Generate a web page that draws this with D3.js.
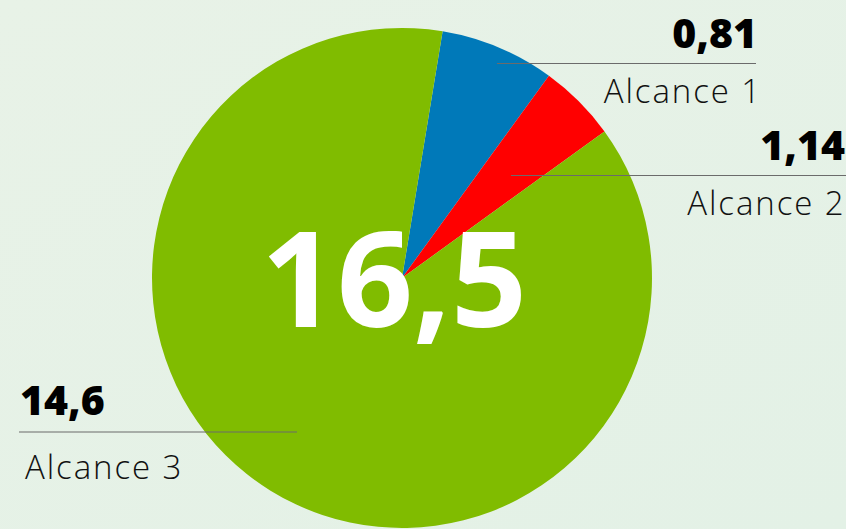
<!DOCTYPE html>
<html>
<head>
<meta charset="utf-8">
<script src="https://cdn.jsdelivr.net/npm/d3@7"></script>
<style>
  html, body { margin: 0; padding: 0; overflow: hidden; }
  body { width: 846px; height: 529px; }
</style>
</head>
<body>
<div id="chart"></div>
<script>
const w = 846;
const h = 529;

// labels and numbers as printed
const categories = ['Alcance 1', 'Alcance 2', 'Alcance 3'];
const valueLabels = ['0,81', '1,14', '14,6'];
const totalLabel = '16,5';
// slice sizes as drawn in the picture (percent of the circle)
const sliceShares = [7.4, 5.03, 87.57];
const colors = ['#0079b9', '#ff0000', '#80bc00'];

const cx = 402;
const cy = 278;
const radius = 250;
// the first slice starts a little right of twelve o'clock
const startAngle = (9.35 * Math.PI) / 180;

const svg = d3
  .select('#chart')
  .append('svg')
  .attr('width', w)
  .attr('height', h);

const defs = svg.append('defs');
const grad = defs
  .append('linearGradient')
  .attr('id', 'bg')
  .attr('x1', '0')
  .attr('y1', '0')
  .attr('x2', '1')
  .attr('y2', '1');
grad.append('stop').attr('offset', '0').attr('stop-color', '#e8f2e7');
grad.append('stop').attr('offset', '1').attr('stop-color', '#e3f1e6');

svg.append('rect').attr('width', w).attr('height', h).attr('fill', 'url(#bg)');

const pie = d3
  .pie()
  .sort(null)
  .value((d) => d)
  .startAngle(startAngle)
  .endAngle(startAngle + 2 * Math.PI);

const arc = d3.arc().innerRadius(0).outerRadius(radius);

svg
  .append('g')
  .attr('transform', `translate(${cx},${cy})`)
  .selectAll('path')
  .data(pie(sliceShares))
  .enter()
  .append('path')
  .attr('d', arc)
  .attr('fill', (d, i) => colors[i]);

// label placement per category
const labelPos = [
  { valX: 757, catX: 762, x0: 497, x1: 756, lineY: 63.5, anchor: 'end', valY: 48, catY: 103 },
  { valX: 845, catX: 845.5, x0: 511, x1: 846, lineY: 175.5, anchor: 'end', valY: 160, catY: 215 },
  { valX: 20, catX: 25, x0: 19, x1: 297, lineY: 432, anchor: 'start', valY: 415, catY: 479 }
];
const catSpacing = 1.9;

const labels = svg
  .selectAll('g.label')
  .data(categories)
  .enter()
  .append('g')
  .attr('class', 'label');

labels
  .append('line')
  .attr('x1', (d, i) => labelPos[i].x0)
  .attr('x2', (d, i) => labelPos[i].x1)
  .attr('y1', (d, i) => labelPos[i].lineY)
  .attr('y2', (d, i) => labelPos[i].lineY)
  .attr('stroke', '#6b6b6b')
  .attr('stroke-width', 1.2);

labels
  .append('text')
  .attr('x', (d, i) => labelPos[i].valX)
  .attr('y', (d, i) => labelPos[i].valY)
  .attr('text-anchor', (d, i) => labelPos[i].anchor)
  .attr('font-family', 'Open Sans, sans-serif')
  .attr('font-weight', 800)
  .attr('font-size', 41)
  .attr('fill', '#000')
  .text((d, i) => valueLabels[i]);

labels
  .append('text')
  .attr('x', (d, i) => labelPos[i].catX)
  .attr('y', (d, i) => labelPos[i].catY)
  .attr('text-anchor', (d, i) => labelPos[i].anchor)
  .attr('font-family', 'Open Sans, sans-serif')
  .attr('font-weight', 300)
  .attr('font-size', 33)
  .attr('letter-spacing', catSpacing)
  .attr('fill', '#111')
  .text((d) => d);

svg
  .append('text')
  .attr('x', 394)
  .attr('y', 327)
  .attr('text-anchor', 'middle')
  .attr('font-family', 'Open Sans, sans-serif')
  .attr('font-weight', 700)
  .attr('font-size', 133)
  .attr('fill', '#fff')
  .text(totalLabel);
</script>
</body>
</html>
